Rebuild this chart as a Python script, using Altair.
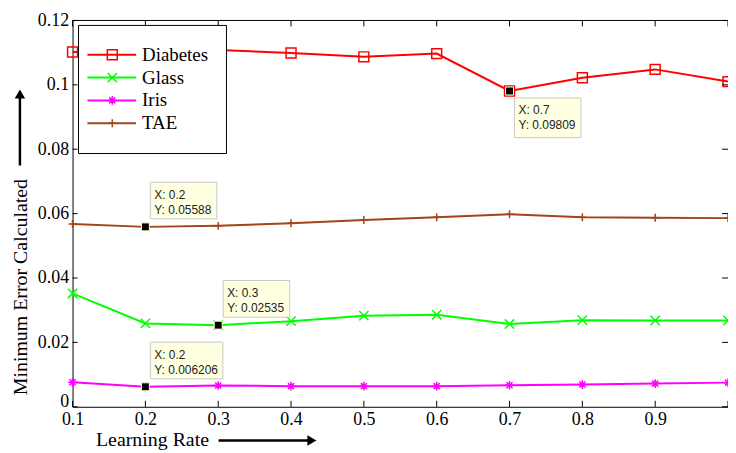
import altair as alt
import pandas as pd

# ---------------- data ----------------
learning_rate = [0.1, 0.2, 0.3, 0.4, 0.5, 0.6, 0.7, 0.8, 0.9, 1.0]
series_names = ["Diabetes", "Glass", "Iris", "TAE"]
diabetes = [0.1102, 0.1106, 0.1108, 0.1099, 0.1087, 0.1097, 0.09809, 0.1022, 0.1048, 0.1010]
glass = [0.0352, 0.0259, 0.02535, 0.0266, 0.0283, 0.0286, 0.0257, 0.0269, 0.0268, 0.0268]
iris = [0.0076, 0.006206, 0.0066, 0.0064, 0.0064, 0.0064, 0.0067, 0.0069, 0.0072, 0.0075]
tae = [0.0568, 0.05588, 0.0562, 0.0570, 0.0580, 0.0589, 0.0598, 0.0589, 0.0587, 0.0586]

x_tick_values = [0.1, 0.2, 0.3, 0.4, 0.5, 0.6, 0.7, 0.8, 0.9, 1.0]
x_label_values = [0.1, 0.2, 0.3, 0.4, 0.5, 0.6, 0.7, 0.8, 0.9]
y_tick_values = [0, 0.02, 0.04, 0.06, 0.08, 0.1, 0.12]

tip_series = ["Diabetes", "TAE", "Glass", "Iris"]
tip_x = [0.7, 0.2, 0.3, 0.2]
tip_y = [0.09809, 0.05588, 0.02535, 0.006206]
tip_below = [True, False, False, False]

# ---------------- styles ----------------
colors = ["#FF0000", "#00FF00", "#FF00FF", "#A0451C"]
shapes = [
    "M-1,-1H1V1H-1Z",
    "M-1,-1L1,1M-1,1L1,-1",
    "M-1,0H1M0,-1V1M-0.7,-0.7L0.7,0.7M-0.7,0.7L0.7,-0.7",
    "M-1,0H1M0,-1V1",
]
sizes = [100, 64, 100, 144]
widths = [2, 2, 3, 2.5]

W, H = 660, 389
serif = "Liberation Serif"
sans = "Liberation Sans"

rows = []
for name, vals in zip(series_names, [diabetes, glass, iris, tae]):
    for lr, v in zip(learning_rate, vals):
        rows.append({"series": name, "lr": lr, "err": v})
df = pd.DataFrame(rows)

x_scale = alt.Scale(domain=[0.1, 1.0], nice=False, zero=False)
y_scale = alt.Scale(domain=[0, 0.12], nice=False, zero=True)
x_axis = alt.Axis(values=x_label_values, labelExpr="format(datum.value, '.1~f')",
                  title="Learning Rate",
                  titleX=80, titleY=33, titleAlign="center", titleBaseline="middle",
                  labelPadding=4, labelFlush=False)
y_axis = alt.Axis(values=y_tick_values,
                  labelExpr="datum.value == 0 ? '0' : format(datum.value, '.2~f')",
                  labelBaseline={"condition": {"test": "datum.value === 0", "value": "alphabetic"},
                                 "value": "middle"},
                  title="Minimum Error Calculated",
                  titleX=-52, titleY=268, titleAlign="center", titleBaseline="middle",
                  titleAngle=270, labelPadding=4)

X = alt.X("lr:Q", scale=x_scale, axis=x_axis)
Y = alt.Y("err:Q", scale=y_scale, axis=y_axis)
color = alt.Color("series:N", scale=alt.Scale(domain=series_names, range=colors), legend=None)
shape = alt.Shape("series:N", scale=alt.Scale(domain=series_names, range=shapes), legend=None)
size = alt.Size("series:N", scale=alt.Scale(domain=series_names, range=sizes), legend=None)
swidth = alt.StrokeWidth("series:N", scale=alt.Scale(domain=series_names, range=widths), legend=None)

lines = alt.Chart(df).mark_line().encode(x=X, y=Y, color=color, strokeWidth=swidth, detail="series:N")
points = alt.Chart(df).mark_point(filled=False, strokeWidth=1.5, opacity=1).encode(
    x=X, y=Y, color=color, shape=shape, size=size)

# inward ticks
xt = pd.DataFrame({"lr": x_tick_values})
yt = pd.DataFrame({"err": y_tick_values})
tick_bottom = alt.Chart(xt).mark_rule(color="black", strokeWidth=1).encode(
    x=X, y=alt.value(H), y2=alt.value(H - 6))
tick_top = alt.Chart(xt).mark_rule(color="black", strokeWidth=1).encode(
    x=X, y=alt.value(0), y2=alt.value(6))
tick_left = alt.Chart(yt).mark_rule(color="black", strokeWidth=1).encode(
    y=Y, x=alt.value(0), x2=alt.value(5))
tick_right = alt.Chart(yt).mark_rule(color="black", strokeWidth=1).encode(
    y=Y, x=alt.value(W - 6), x2=alt.value(W))
one = pd.DataFrame({"a": [0]})
top_border = alt.Chart(one).mark_rule(color="black", strokeWidth=1).encode(
    x=alt.value(0), x2=alt.value(W), y=alt.value(0))

# data tips
tip_layers = []
for s, tx, ty, below in zip(tip_series, tip_x, tip_y, tip_below):
    xl = f"X: {tx}"
    yl = f"Y: {ty}"
    d = pd.DataFrame({"lr": [tx], "err": [ty], "xl": [xl], "yl": [yl]})
    bw = 6 * len(yl) + 7
    if below:
        y0, y1, d1, d2 = 7, 47, 19, 34
    else:
        y0, y1, d1, d2 = -45, -8, -32, -17
    box = alt.Chart(d).mark_rect(fill="#FFFFE1", stroke="#C8C8C8", strokeWidth=1,
                                 xOffset=5, x2Offset=5 + bw, yOffset=y0, y2Offset=y1).encode(
        x=X, x2="lr:Q", y=Y, y2="err:Q")
    t1 = alt.Chart(d).mark_text(align="left", baseline="middle", dx=9, dy=d1,
                                font=sans, fontSize=12, color="#222222").encode(x=X, y=Y, text="xl:N")
    t2 = alt.Chart(d).mark_text(align="left", baseline="middle", dx=9, dy=d2,
                                font=sans, fontSize=12, color="#222222").encode(x=X, y=Y, text="yl:N")
    mk = alt.Chart(d).mark_point(shape="square", filled=True, fill="black", stroke="#FFFFCC",
                                 strokeWidth=1, size=64, opacity=1).encode(x=X, y=Y)
    tip_layers += [box, t1, t2, mk]

main = alt.layer(lines, points, tick_bottom, tick_top, tick_left, tick_right, top_border, *tip_layers)

# legend and axis arrows
leg_df = pd.DataFrame({"series": series_names})
leg_y = alt.Y("series:N", scale=alt.Scale(domain=series_names, range=[23, 115]), axis=None)
leg_box = alt.Chart(one).mark_rect(fill="white", stroke="black", strokeWidth=1).encode(
    x=alt.value(6), x2=alt.value(155), y=alt.value(5), y2=alt.value(134))
leg_lines = alt.Chart(leg_df).mark_rule().encode(
    x=alt.value(15), x2=alt.value(64), y=leg_y, color=color, strokeWidth=swidth)
leg_points = alt.Chart(leg_df).mark_point(filled=False, strokeWidth=1.5, opacity=1).encode(
    x=alt.value(40), y=leg_y, color=color, shape=shape, size=size)
leg_text = alt.Chart(leg_df).mark_text(align="left", baseline="middle", font=serif,
                                       fontSize=19, color="black").encode(
    x=alt.value(70), y=leg_y, text="series:N")

y_arrow = alt.Chart(one).mark_rule(color="black", strokeWidth=2.5).encode(
    x=alt.value(-53), y=alt.value(146), y2=alt.value(78))
y_head = alt.Chart(one).mark_point(shape="triangle-up", filled=True, color="black",
                                   size=110, opacity=1).encode(x=alt.value(-53), y=alt.value(74))
x_arrow = alt.Chart(one).mark_rule(color="black", strokeWidth=2.5).encode(
    x=alt.value(147), x2=alt.value(238), y=alt.value(423))
x_head = alt.Chart(one).mark_point(shape="triangle-right", filled=True, color="black",
                                   size=110, opacity=1).encode(x=alt.value(241), y=alt.value(423))

overlay = alt.layer(leg_box, leg_lines, leg_points, leg_text, y_arrow, y_head, x_arrow, x_head)

chart = alt.layer(main, overlay).resolve_scale(y="independent").properties(
    width=W, height=H,
    autosize=alt.AutoSizeParams(type="none"),
    padding={"left": 65, "top": 11, "right": 0, "bottom": 45},
    background="white",
).configure_view(stroke=None).configure_axis(
    domainColor="black", domainWidth=1, labelColor="black", labelFont=serif,
    labelFontSize=18, titleFont=serif, titleFontSize=20, titleFontWeight="normal",
    titleColor="black", grid=False, ticks=False, tickSize=0,
)

chart.save("out.html", embed_options={"renderer": "svg", "actions": False})
